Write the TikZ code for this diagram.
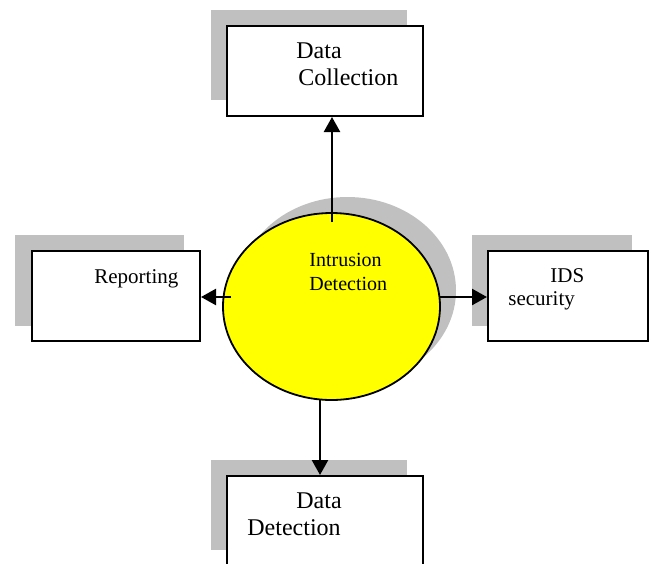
\documentclass[tikz,border=0pt]{standalone}
\usepackage{fontspec}
\setmainfont{Liberation Serif}
\usetikzlibrary{arrows.meta,shapes.geometric}
\definecolor{shadegray}{RGB}{192,192,192}
\definecolor{ideyellow}{RGB}{255,255,0}
\tikzset{
  boxnode/.style={draw=black, line width=1pt, fill=white, inner sep=0pt},
  shadownode/.style={fill=shadegray, draw=none, inner sep=0pt},
  txt/.style={inner sep=0pt, anchor=base west},
  bigtxt/.style={txt, font=\fontsize{12}{14}\selectfont},
  midtxt/.style={txt, font=\fontsize{10.5}{12}\selectfont},
  smalltxt/.style={txt, font=\fontsize{10}{12}\selectfont},
  arr/.style={line width=1.2pt, -{Triangle[length=7.5pt,width=8pt]}}
}
\begin{document}
\begin{tikzpicture}[x=0.5pt,y=-0.5pt]
\useasboundingbox (0,0) rectangle (654,563);
\clip (0,0) rectangle (654,563);
% shadows
\node[shadownode, minimum width=98pt, minimum height=45pt] (dcsh) at (309,55) {};
\node[shadownode, minimum width=84.5pt, minimum height=45.5pt] (repsh) at (99.5,280.5) {};
\node[shadownode, minimum width=80pt, minimum height=45.5pt] (idssh) at (552,280.5) {};
\node[shadownode, minimum width=98pt, minimum height=45pt] (ddsh) at (309,505) {};
\node[ellipse, fill=shadegray, draw=none, inner sep=0pt, minimum width=108.5pt, minimum height=93.5pt] (mainsh) at (347.5,290.5) {};
% boxes
\node[boxnode, minimum width=98pt, minimum height=45pt] (dc) at (325,71) {};
\node[boxnode, minimum width=84pt, minimum height=45pt] (rep) at (116,296) {};
\node[boxnode, minimum width=80pt, minimum height=45pt] (ids) at (568,296) {};
\node[boxnode, minimum width=98pt, minimum height=45pt] (dd) at (325,521) {};
% main ellipse
\node[ellipse, draw=black, line width=0.9pt, fill=ideyellow, inner sep=0pt, minimum width=108.5pt, minimum height=93.5pt] (main) at (331.5,306.5) {};
% texts
\node[bigtxt] (t1) at (296,58) {Data};
\node[bigtxt] (t2) at (298,85) {Collection};
\node[smalltxt] (t3) at (309,266) {Intrusion};
\node[smalltxt] (t4) at (309,290) {Detection};
\node[midtxt] (t5) at (94,283) {Reporting};
\node[midtxt] (t6) at (550,282) {IDS};
\node[midtxt] (t7) at (508,305) {security};
\node[bigtxt] (t8) at (296,508) {Data};
\node[bigtxt] (t9) at (247,535) {Detection};
% connectors
\coordinate (upstart) at (332,222);
\coordinate (leftstart) at (231,297);
\coordinate (rightstart) at (440,297);
\coordinate (downstart) at (320,400);
\draw[arr] (upstart) -- (dc.south -| upstart);
\draw[arr] (leftstart) -- (rep.east |- leftstart);
\draw[arr] (rightstart) -- (ids.west |- rightstart);
\draw[arr] (downstart) -- (dd.north -| downstart);
\end{tikzpicture}
\end{document}
